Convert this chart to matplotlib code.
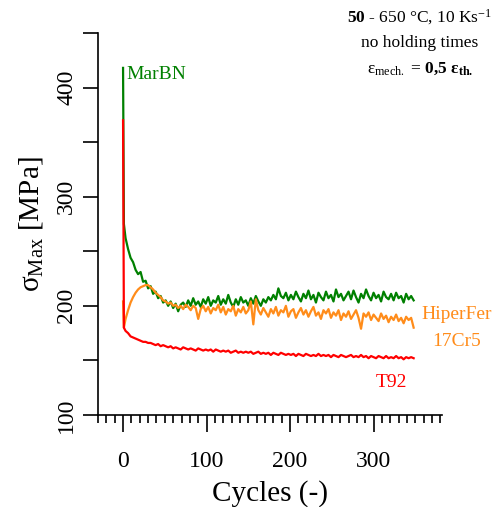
import matplotlib

matplotlib.use("Agg")
import matplotlib.pyplot as plt
import numpy as np
from matplotlib.ticker import MultipleLocator, FixedLocator

plt.rcParams["font.family"] = ["Liberation Serif", "DejaVu Serif"]
plt.rcParams["mathtext.fontset"] = "custom"
plt.rcParams["mathtext.rm"] = "Liberation Serif"
plt.rcParams["mathtext.it"] = "Liberation Serif:italic"
plt.rcParams["mathtext.bf"] = "Liberation Serif:bold"

# cycle numbers of the sampled points (0, 1, then every 3rd cycle)
cycles = np.concatenate(([0, 1], np.arange(3, 349, 3)))

marbn = [
    418, 275,
    262, 252, 244, 240, 233, 229, 231, 222, 223, 216,
    218, 211, 213, 207, 209, 203, 205, 200, 204, 198,
    202, 195, 201, 203, 199, 205, 200, 207, 201, 204,
    199, 206, 202, 208, 200, 205, 203, 209, 201, 206,
    202, 210, 203, 199, 206, 201, 208, 203, 205, 200,
    207, 202, 209, 204, 200, 206, 203, 208, 205, 210,
    206, 216, 209, 207, 212, 205, 210, 206, 213, 208,
    204, 211, 207, 214, 206, 210, 203, 212, 208, 205,
    213, 207, 210, 204, 215, 208, 211, 205, 209, 213,
    206, 214, 208, 203, 211, 207, 215, 209, 205, 212,
    207, 210, 204, 213, 208, 206, 211, 205, 212, 207,
    209, 203, 211, 206, 209, 205,
]

hiperfer = [
    204, 180,
    188, 196, 203, 208, 212, 215, 217, 218, 219, 219,
    217, 215, 212, 210, 208, 205, 204, 202, 203, 200,
    201, 198, 200, 197, 201, 199, 196, 200, 198, 188,
    197, 200, 195, 199, 193, 198, 196, 201, 194, 199,
    192, 197, 195, 200, 191, 197, 194, 199, 193, 196,
    204, 183, 206, 196, 192, 198, 194, 190, 197, 193,
    199, 191, 196, 194, 200, 190, 195, 197, 189, 194,
    198, 192, 196, 190, 195, 199, 191, 194, 188, 196,
    193, 197, 189, 194, 191, 196, 187, 193, 190, 195,
    188, 192, 196, 189, 179, 193, 190, 194, 187, 192,
    189, 186, 193, 188, 191, 185, 190, 187, 192, 186,
    189, 184, 190, 187, 189, 180,
]

t92 = [
    370, 180,
    177, 175, 172, 171, 170, 169, 168, 167, 167, 166,
    166, 165, 164, 165, 163, 164, 163, 162, 163, 161,
    162, 161, 160, 162, 161, 160, 161, 160, 159, 161,
    160, 159, 160, 159, 160, 158, 160, 159, 158, 159,
    158, 159, 157, 158, 159, 157, 158, 157, 158, 157,
    158, 156, 157, 158, 156, 157, 156, 157, 155, 157,
    156, 155, 157, 156, 155, 156, 155, 156, 154, 156,
    155, 154, 156, 155, 154, 155, 154, 156, 154, 155,
    154, 155, 153, 155, 154, 153, 155, 154, 153, 154,
    155, 153, 154, 153, 155, 153, 154, 152, 154, 153,
    152, 154, 153, 152, 154, 152, 153, 152, 154, 152,
    153, 151, 153, 152, 153, 152,
]

GREEN = "#008000"
ORANGE = "#ff8c1a"
RED = "#ff0000"

fig = plt.figure(figsize=(4.95, 5.07), dpi=100)
ax = fig.add_axes([0.198, 0.1815, 0.695, 0.7535])

ax.plot(cycles, marbn, color=GREEN, lw=1.6)
ax.plot(cycles, hiperfer, color=ORANGE, lw=1.6)
ax.plot(cycles, t92, color=RED, lw=1.6)

ax.set_xlim(-30, 382)
ax.set_ylim(100, 450)

for side in ("top", "right"):
    ax.spines[side].set_visible(False)
ax.spines["left"].set_linewidth(1.2)
ax.spines["bottom"].set_linewidth(1.2)

ax.xaxis.set_major_locator(FixedLocator([0, 100, 200, 300]))
ax.xaxis.set_minor_locator(MultipleLocator(10))
ax.yaxis.set_major_locator(FixedLocator([100, 200, 300, 400]))
ax.yaxis.set_minor_locator(FixedLocator([150, 250, 350, 450]))
ax.tick_params(axis="x", which="major", direction="out", length=12, width=1.2,
               labelsize=17, pad=14)
ax.tick_params(axis="x", which="minor", direction="out", length=6, width=1.2)
ax.tick_params(axis="y", which="both", direction="out", length=11, width=1.2,
               labelsize=17, pad=4)
for lab in ax.get_yticklabels():
    lab.set_rotation(90)
    lab.set_va("center")

ax.set_xlabel("Cycles (-)", fontsize=21, labelpad=6)
ax.set_ylabel(r"σ$_{\mathrm{Max}}$ [MPa]", fontsize=21, labelpad=8)

ax.text(4, 412, "MarBN", color=GREEN, fontsize=14, ha="left", va="center")
ax.text(399, 192, "HiperFer", color=ORANGE, fontsize=14, ha="center",
        va="center", clip_on=False)
ax.text(399, 167, "17Cr5", color=ORANGE, fontsize=14, ha="center",
        va="center", clip_on=False)
ax.text(322, 130, "T92", color=RED, fontsize=14, ha="center", va="center")

fig.text(0.848, 0.966, r"$\mathbf{50}$ - 650 °C, 10 Ks$^{-1}$", fontsize=12.5,
         ha="center", va="center")
fig.text(0.848, 0.916, "no holding times", fontsize=12.5, ha="center", va="center")
fig.text(0.848, 0.865, r"ε$_{\mathrm{mech.}}$ = $\mathbf{0{,}5}$ "
         r"$\mathbf{ε_{th.}}$", fontsize=12.5, ha="center", va="center")

fig.savefig("out.png", dpi=100)
